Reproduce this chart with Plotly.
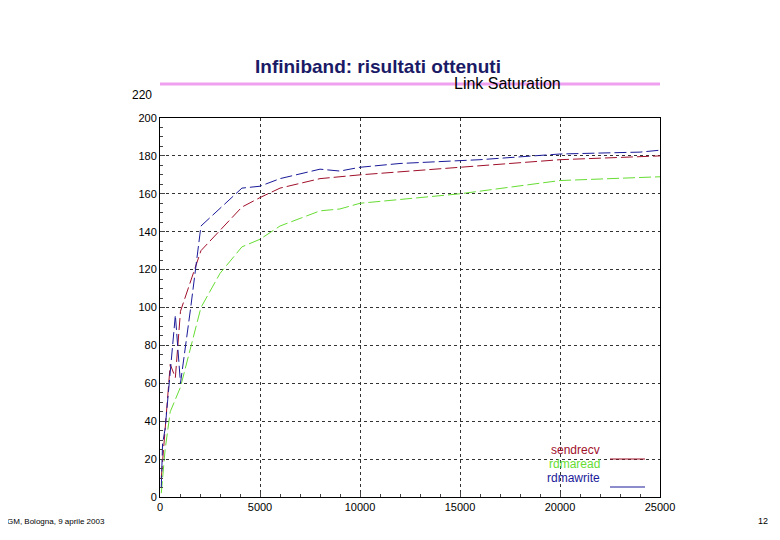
import plotly.graph_objs as go

# DATA
x_send = [64, 256, 512, 768, 1024, 2048, 4096, 5000, 6000, 8000, 10000, 15000, 20000, 25000]
y_send = [10, 38, 70, 63, 98, 130, 153, 158, 163, 168, 170, 174, 178, 180]

x_read = [64, 256, 512, 1024, 2048, 3000, 4096, 5000, 6000, 8000, 9000, 10000, 15000, 20000, 25000]
y_read = [2, 25, 45, 58, 100, 118, 132, 136, 143, 151, 152, 155, 160, 167, 169]

x_write = [64, 128, 256, 512, 768, 1024, 1536, 2048, 4096, 5000, 6000, 8000, 9000, 10000, 12000, 16000, 20000, 24000, 25000]
y_write = [5, 28, 36, 68, 96, 60, 100, 143, 163, 164, 168, 173, 172, 174, 176, 178, 181, 182, 183]

names = ['sendrecv', 'rdmaread', 'rdmawrite']
colors = ['#a0102a', '#66dd33', '#1a1a99']

fig = go.Figure()
for xs, ys, n, c in zip([x_send, x_read, x_write], [y_send, y_read, y_write], names, colors):
    fig.add_trace(go.Scatter(x=xs, y=ys, mode='lines', name=n,
                             line=dict(color=c, width=1, dash='12px,4px')))

fig.update_layout(
    width=780, height=540, showlegend=False,
    plot_bgcolor='white', paper_bgcolor='white',
    margin=dict(l=152, r=128, t=110, b=51),
    font=dict(family='Liberation Sans, Arial', size=11, color='black'),
)
fig.update_xaxes(range=[0, 25000], dtick=5000, tickformat='d', showgrid=True, gridcolor='#333',
                 griddash='dot', gridwidth=1, showline=True, linecolor='black', mirror=True,
                 ticks='inside', ticklen=5, zeroline=False,
                 minor=dict(dtick=1000, ticks='inside', ticklen=3))
fig.update_yaxes(range=[0, 200], dtick=20, showgrid=True, gridcolor='#333', griddash='dot',
                 gridwidth=1, showline=True, linecolor='black', mirror=True, ticks='inside',
                 ticklen=5, zeroline=False, minor=dict(dtick=5, ticks='inside', ticklen=3))

H = 379.0  # plot height in px, for placing slide text


def py(ypix):
    return (497 - ypix) / H


def px(xpix):
    return (xpix - 160) / 500.0


# legend: coloured text with line sample to the right
for i, (n, c) in enumerate(zip(names, colors)):
    yy = py(459 + i * 14)
    fig.add_annotation(x=px(602), y=yy, xref='paper', yref='paper', text=n, showarrow=False,
                       xanchor='right', font=dict(color=c, size=12))
    if n != 'rdmaread':
        fig.add_shape(type='line', xref='paper', yref='paper', x0=px(610), x1=px(645),
                      y0=yy, y1=yy, line=dict(color=c, width=1))

# slide decorations
fig.add_annotation(xref='paper', yref='paper', x=px(378), y=py(54),
                   text='<b>Infiniband: risultati ottenuti</b>', showarrow=False,
                   font=dict(size=19, color='#1a1a66'))
fig.add_annotation(xref='paper', yref='paper', x=px(563), y=py(73),
                   text='Link Saturation', showarrow=False, font=dict(size=16))
fig.add_annotation(xref='paper', yref='paper', x=px(154), y=py(86), xanchor='right',
                   text='220', showarrow=False, font=dict(size=12))
fig.add_shape(type='line', xref='paper', yref='paper', x0=0, x1=1,
              y0=py(84), y1=py(84), line=dict(color='#f0a0f0', width=3))
fig.add_annotation(xref='paper', yref='paper', x=px(5), y=py(528),
                   xanchor='left', text='GM, Bologna, 9 aprile 2003', showarrow=False,
                   font=dict(size=8))
fig.add_annotation(xref='paper', yref='paper', x=px(770), y=py(528),
                   xanchor='right', text='12', showarrow=False, font=dict(size=9))

fig.write_html("out.html")
